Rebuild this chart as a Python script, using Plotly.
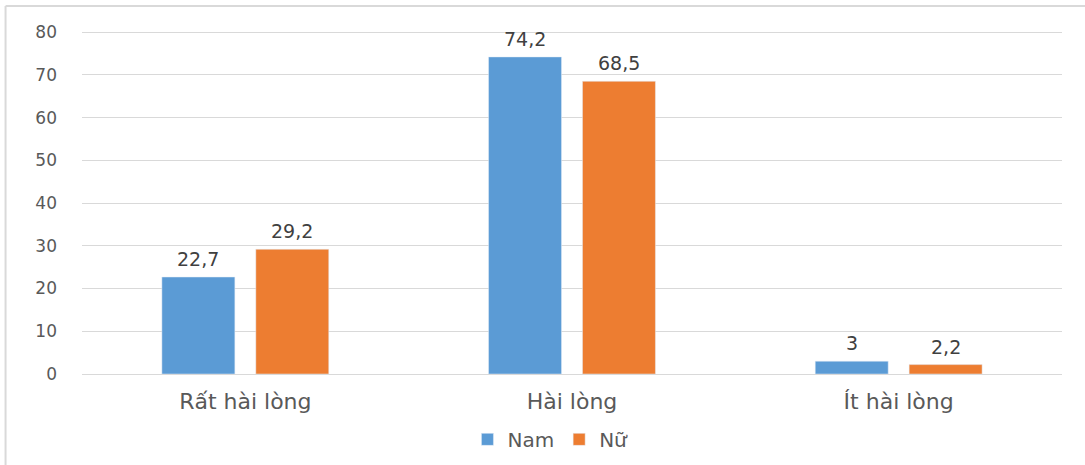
import plotly.graph_objects as go

categories = ["Rất hài lòng", "Hài lòng", "Ít hài lòng"]
nam = [22.7, 74.2, 3]
nu = [29.2, 68.5, 2.2]
y_ticks = [0, 10, 20, 30, 40, 50, 60, 70, 80]

BLUE = "#5B9BD5"
ORANGE = "#ED7D31"
FONT = "DejaVu Sans"


def fmt(v):
    s = f"{v:g}"
    return s.replace(".", ",")


fig = go.Figure()
fig.add_trace(go.Bar(name="Nam", x=categories, y=nam, marker_color=BLUE))
fig.add_trace(go.Bar(name="Nữ", x=categories, y=nu, marker_color=ORANGE))

# value labels above each bar
annotations = []
for series, shift in ((nam, -47), (nu, 47)):
    for cat, val in zip(categories, series):
        annotations.append(dict(
            x=cat, y=val, xref="x", yref="y", text=fmt(val),
            showarrow=False, yanchor="bottom", xshift=shift, yshift=5,
            font=dict(family=FONT, size=19, color="#404040"),
        ))

fig.update_layout(
    width=1085, height=465,
    margin=dict(l=82, r=23, t=30, b=91, autoexpand=False),
    paper_bgcolor="white", plot_bgcolor="white",
    barmode="group", bargap=0.425, bargroupgap=0.223,
    font=dict(family=FONT, color="#595959"),
    annotations=annotations,
    legend=dict(
        orientation="h", x=0.478, xanchor="center", y=-0.19, yanchor="middle",
        font=dict(family=FONT, size=20, color="#595959"),
        itemwidth=30, traceorder="normal",
    ),
    shapes=[
        dict(type="line", xref="paper", yref="paper",
             x0=-0.078, x1=-0.078, y0=1.07, y1=-0.4,
             line=dict(color="#D9D9D9", width=2)),
        dict(type="line", xref="paper", yref="paper",
             x0=-0.078, x1=1.05, y0=1.07, y1=1.07,
             line=dict(color="#D9D9D9", width=2)),
    ],
)
fig.update_xaxes(
    automargin=False, showgrid=False, showline=False, ticks="",
    ticklabelstandoff=12,
    tickfont=dict(family=FONT, size=22, color="#595959"),
)
fig.update_yaxes(
    automargin=False, range=[0, 80.5], tickvals=y_ticks, showgrid=True,
    gridcolor="#D9D9D9", gridwidth=1, zeroline=True,
    zerolinecolor="#D9D9D9", zerolinewidth=1,
    ticks="", ticklabelstandoff=24,
    tickfont=dict(family=FONT, size=17, color="#595959"),
)

fig.write_html("out.html")
